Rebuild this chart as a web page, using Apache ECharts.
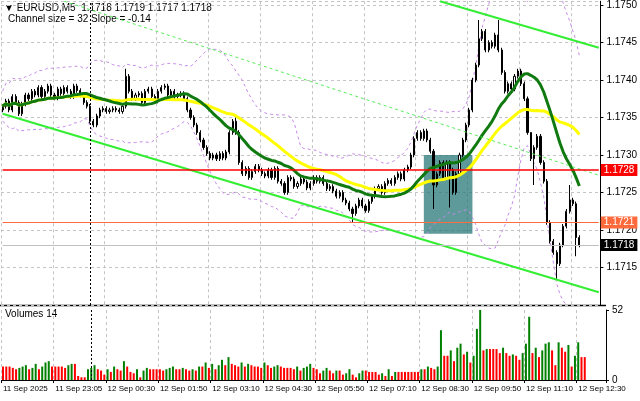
<!DOCTYPE html>
<html><head><meta charset="utf-8">
<script src="https://cdn.jsdelivr.net/npm/echarts@6/dist/echarts.min.js"></script>
<style>html,body{margin:0;padding:0;background:#fff}#c{width:640px;height:401px}</style>
</head><body><div id="c"></div>
<script>
const closes=[1.17365,1.17372,1.17360,1.17378,1.17370,1.17355,1.17368,1.17380,1.17375,1.17385,
1.17380,1.17390,1.17378,1.17385,1.17392,1.17380,1.17376,1.17388,1.17382,1.17390,
1.17385,1.17378,1.17392,1.17386,1.17380,1.17370,1.17365,1.17345,1.17340,1.17352,
1.17360,1.17362,1.17358,1.17360,1.17362,1.17360,1.17358,1.17365,1.17405,1.17385,
1.17375,1.17380,1.17382,1.17370,1.17385,1.17388,1.17378,1.17372,1.17385,1.17390,
1.17392,1.17380,1.17385,1.17378,1.17380,1.17382,1.17375,1.17360,1.17350,1.17340,
1.17330,1.17320,1.17310,1.17302,1.17296,1.17300,1.17295,1.17302,1.17296,1.17304,
1.17330,1.17345,1.17330,1.17290,1.17275,1.17282,1.17270,1.17278,1.17285,1.17280,
1.17275,1.17272,1.17280,1.17270,1.17282,1.17265,1.17262,1.17250,1.17270,1.17268,
1.17258,1.17262,1.17268,1.17264,1.17256,1.17262,1.17270,1.17265,1.17270,1.17262,
1.17255,1.17258,1.17252,1.17245,1.17250,1.17240,1.17236,1.17228,1.17222,1.17232,
1.17240,1.17232,1.17226,1.17238,1.17245,1.17255,1.17258,1.17250,1.17262,1.17266,
1.17262,1.17270,1.17275,1.17268,1.17280,1.17284,1.17300,1.17322,1.17330,1.17322,
1.17332,1.17320,1.17305,1.17260,1.17275,1.17290,1.17270,1.17290,1.17280,1.17250,
1.17275,1.17300,1.17320,1.17340,1.17360,1.17400,1.17420,1.17455,1.17465,1.17440,
1.17450,1.17445,1.17460,1.17440,1.17410,1.17385,1.17395,1.17388,1.17405,1.17412,
1.17395,1.17375,1.17330,1.17295,1.17310,1.17325,1.17290,1.17265,1.17210,1.17185,
1.17170,1.17155,1.17180,1.17205,1.17225,1.17240,1.17235,1.17190,1.17180];
const firstOpen=1.17360;
const spikes={38:{h:1.17415},72:{h:1.1735},108:{l:1.1721},133:{l:1.17228},138:{l:1.1723},147:{h:1.1748},153:{h:1.1748},163:{h:1.1733},164:{l:1.1726},171:{l:1.17135},175:{h:1.1726},177:{l:1.17165}};
const volumes=[10,10,10,9,8,9,10,11,8,9,12,8,10,13,14,10,10,10,10,9,
11,12,12,3,2,2,8,9,11,8,7,4,8,6,10,8,7,14,10,6,
5,8,2,7,9,8,8,8,8,7,8,9,10,8,8,9,8,7,8,7,
10,10,13,9,12,8,11,15,11,17,12,11,10,13,10,12,11,10,10,9,
13,11,9,10,11,10,9,9,9,8,10,7,9,10,12,9,8,5,7,9,
7,5,7,7,4,5,8,4,2,5,7,7,6,6,6,4,5,3,8,3,
6,6,6,6,6,6,6,6,8,8,10,9,8,10,
37,18,18,22,14,24,27,19,21,13,18,38,52,22,23,23,23,23,20,24,
20,18,19,18,15,20,27,47,20,24,17,22,27,28,22,11,28,24,21,26,10,18,28,17,17];
const timeLabels=['11 Sep 2025','11 Sep 23:05','12 Sep 00:30','12 Sep 01:50','12 Sep 03:10','12 Sep 04:30','12 Sep 05:50','12 Sep 07:10','12 Sep 08:30','12 Sep 09:50','12 Sep 11:10','12 Sep 12:30'];
const levels=[{p:1.1728,c:'#ff0000',t:'#ff0000',w:1.5},{p:1.1721,c:'#ff6a3c',t:'#ff6a3c',w:1},{p:1.1718,c:'#c0c0c0',t:'#000',w:1}];

const N=185, n=closes.length;
const cats=[];for(let i=0;i<N;i++)cats.push(i%16===0&&timeLabels[i/16]?timeLabels[i/16]:'');
const ohlc=closes.map((c,i)=>{const o=i?closes[i-1]:firstOpen;let h=Math.max(o,c)+0.00003,l=Math.min(o,c)-0.00003;const s=spikes[i];if(s){if(s.h)h=s.h;if(s.l)l=s.l;}return [o,c,l,h];});
function sma(p){return closes.map((_,i)=>{const a=closes.slice(Math.max(0,i-p+1),i+1);return a.reduce((x,y)=>x+y,0)/a.length;});}
const ma1=sma(20),ma2=sma(34);
const bbU=[],bbL=[];closes.forEach((_,i)=>{const a=closes.slice(Math.max(0,i-19),i+1);const m=a.reduce((x,y)=>x+y,0)/a.length;const sd=Math.sqrt(a.reduce((x,y)=>x+(y-m)*(y-m),0)/a.length);bbU.push(m+2*sd+0.0002);bbL.push(m-2*sd-0.0002);});
const vcol=volumes.map((v,i)=>({value:v,itemStyle:{color:(i>0&&v>volumes[i-1])?'#008000':'#ff0000'}}));
const isLab=(i)=>i%16===0&&i<=176;
const F='Liberation Sans';
const ch=echarts.init(document.getElementById('c'));
const lineS=(d,c,w,t)=>({type:'line',data:d,symbol:'none',silent:true,lineStyle:{color:c,width:w,type:t||'solid'},z:t?2:4});
const levelLines=levels.map(L=>[{coord:[0,L.p],lineStyle:{color:L.c,width:L.w,type:'solid'},label:{show:true,position:'end',formatter:L.p.toFixed(4),backgroundColor:L.t,color:'#fff',fontSize:10,fontFamily:F,padding:[1,3],distance:2}},{coord:[N-1,L.p]}]);
ch.setOption({
animation:false,backgroundColor:'#fff',
textStyle:{fontFamily:F},
graphic:[
{type:'text',left:4,top:3,style:{text:'▼ EURUSD,M5  1.1718 1.1719 1.1717 1.1718',fontSize:10,fontFamily:F,fill:'#000'}},
{type:'text',left:8,top:14,style:{text:'Channel size = 32 Slope = -0.14',fontSize:10,fontFamily:F,fill:'#000'}},
{type:'text',left:5,top:309,style:{text:'Volumes 14',fontSize:10,fontFamily:F,fill:'#000'}},
{type:'line',shape:{x1:0,y1:305.5,x2:606,y2:305.5},style:{stroke:'#000',lineWidth:1.5}}
],
grid:[{left:1,right:34,top:0,height:305},{left:1,right:34,top:310,height:70}],
xAxis:[
{type:'category',data:cats,gridIndex:0,axisLine:{show:false},axisTick:{show:false},axisLabel:{show:false},splitLine:{show:true,interval:(i)=>isLab(i),lineStyle:{color:'#c4c4c4',type:[3,3]}}},
{type:'category',data:cats,gridIndex:1,axisLine:{show:true,lineStyle:{color:'#000'}},axisTick:{show:true,interval:(i)=>isLab(i),length:3,lineStyle:{color:'#000'}},
 axisLabel:{interval:(i)=>isLab(i),fontSize:8,color:'#000',align:'left',margin:5,fontFamily:F,hideOverlap:false,showMinLabel:true,showMaxLabel:true},splitLine:{show:true,interval:(i)=>isLab(i),lineStyle:{color:'#c4c4c4',type:[3,3]}}}
],
yAxis:[
{type:'value',gridIndex:0,position:'right',min:1.1710,max:1.17505,interval:0.0005,axisLine:{show:true,lineStyle:{color:'#000'}},axisTick:{show:true,length:3,lineStyle:{color:'#000'}},
 axisLabel:{fontSize:10,color:'#000',margin:6,fontFamily:F,formatter:v=>v.toFixed(4),showMinLabel:false,showMaxLabel:false},splitLine:{lineStyle:{color:'#c4c4c4',type:[3,3]}}},
{type:'value',gridIndex:1,position:'right',min:0,max:52,interval:52,axisLine:{show:true,lineStyle:{color:'#000'}},axisTick:{show:true,length:3},axisLabel:{fontSize:10,color:'#000',margin:6,fontFamily:F},splitLine:{show:false}}
],
series:[
{type:'candlestick',data:ohlc,barMaxWidth:3,z:3,itemStyle:{color:'#fff',color0:'#000',borderColor:'#000',borderColor0:'#000',borderWidth:1},
 markArea:{silent:true,itemStyle:{color:'rgba(40,120,120,0.75)'},data:[[{coord:[130,1.1730]},{coord:[145,1.17195]}]]},
 markLine:{silent:true,symbol:'none',animation:false,label:{show:false},data:[
  [{coord:[0,1.17355],lineStyle:{color:'#33ee33',width:2,type:'solid'}},{coord:[184,1.17117]}],
  [{coord:[135,1.17505],lineStyle:{color:'#33ee33',width:2,type:'solid'}},{coord:[184,1.17443]}],
  [{coord:[19,1.17505],lineStyle:{color:'#55ee55',width:1,type:[3,3]}},{coord:[184,1.17273]}],
  ...levelLines,
  {xAxis:27,lineStyle:{color:'#000',width:1,type:[2,2]},label:{show:false}}
 ]}},
lineS(bbU,'#c58ae8',1,[3,3]),lineS(bbL,'#c58ae8',1,[3,3]),
lineS(ma2,'#ffff00',3),lineS(ma1,'#107a10',3),
{type:'bar',xAxisIndex:1,yAxisIndex:1,data:vcol,barWidth:2,
 markLine:{silent:true,symbol:'none',data:[{xAxis:27,lineStyle:{color:'#000',width:1,type:[2,2]},label:{show:false}}]}}
]});
</script></body></html>
